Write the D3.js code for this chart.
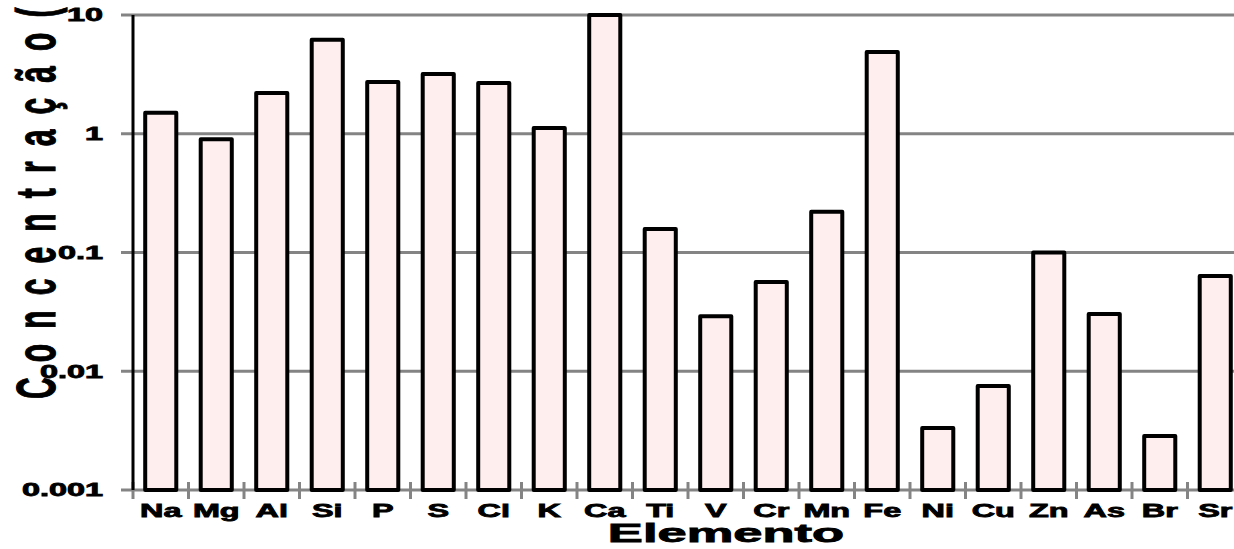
<!DOCTYPE html>
<html><head><meta charset="utf-8">
<script src="https://cdn.jsdelivr.net/npm/d3@7"></script>
<style>html,body{margin:0;padding:0;background:#fff;overflow:hidden}svg{display:block}text{font-family:"Liberation Sans",Arial,sans-serif;font-weight:bold;fill:#000;stroke:#000;paint-order:stroke}</style>
</head><body>
<script>
const elements = ["Na","Mg","Al","Si","P","S","Cl","K","Ca","Ti","V","Cr","Mn","Fe","Ni","Cu","Zn","As","Br","Sr"];
const concentrations = [1.5,0.9,2.2,6.2,2.73,3.18,2.67,1.12,10,0.158,0.029,0.0565,0.22,4.88,0.00333,0.0075,0.1,0.0303,0.00285,0.0634];
const yTicks = [0.001,0.01,0.1,1,10];
const yTickLabels = ["0.001","0.01","0.1","1","10"];
const xTitle = "Elemento";
const yTitle = "C o n c e n t r a ç ã o (";

const W = 1234, H = 549;
const svg = d3.select("body").append("svg").attr("width", W).attr("height", H);
const x = d3.scaleBand().domain(elements).range([133, 1243]).paddingInner(0.44).paddingOuter(0.22);
const xb = d3.scaleBand().domain(elements).range([133, 1243]);
const y = d3.scaleLog().domain([0.001, 10]).range([490, 15]);

// gridlines + y ticks
svg.append("g").selectAll("line").data(yTicks).join("line")
  .attr("x1", 121).attr("x2", 1243)
  .attr("y1", d => y(d)).attr("y2", d => y(d))
  .attr("stroke", "#848484").attr("stroke-width", 3);

// x tick marks at category boundaries
const bounds = elements.map(e => xb(e)).concat([xb(elements[elements.length-1]) + xb.bandwidth()]);
svg.append("g").selectAll("line").data(bounds).join("line")
  .attr("x1", d => d).attr("x2", d => d).attr("y1", 482).attr("y2", 499)
  .attr("stroke", "#848484").attr("stroke-width", 3);

// bars
svg.append("g").selectAll("rect").data(elements).join("rect")
  .attr("x", d => x(d)).attr("width", x.bandwidth())
  .attr("y", (d, i) => y(concentrations[i]))
  .attr("height", (d, i) => y(0.001) - y(concentrations[i]))
  .attr("fill", "#FFEEEE").attr("stroke", "#000").attr("stroke-width", 4)
  .attr("stroke-linejoin", "round");

// y axis line
svg.append("line").attr("x1", 133).attr("x2", 133).attr("y1", y(10)).attr("y2", y(0.001))
  .attr("stroke", "#000").attr("stroke-width", 3);

// y tick labels (horizontally stretched)
svg.append("g").selectAll("text").data(yTicks).join("text")
  .attr("transform", d => `translate(103,${y(d)}) scale(1.8,1)`)
  .attr("dy", "0.36em").attr("text-anchor", "end").attr("stroke-width", 0.8)
  .attr("font-size", 18).text((d, i) => yTickLabels[i]);

// x tick labels
svg.append("g").selectAll("text").data(elements).join("text")
  .attr("transform", d => `translate(${xb(d) + xb.bandwidth()/2},517) scale(1.8,1)`)
  .attr("text-anchor", "middle").attr("font-size", 18).attr("stroke-width", 0.8).text(d => d);

// x title
svg.append("text").attr("transform", "translate(726,542) scale(2.1,1)")
  .attr("text-anchor", "middle").attr("font-size", 25).attr("stroke-width", 0.8).text(xTitle);

// y title
svg.append("text").attr("transform", "translate(55,399) rotate(-90) scale(1,1.87)")
  .attr("text-anchor", "start").attr("font-size", 30).attr("letter-spacing", 3.4)
  .attr("stroke-width", 0.6).text(yTitle);
</script>
</body></html>
